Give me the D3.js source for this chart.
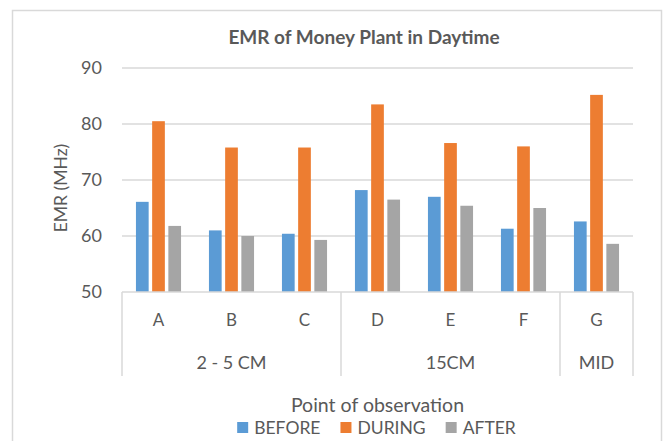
<!DOCTYPE html>
<html>
<head>
<meta charset="utf-8">
<script src="https://cdn.jsdelivr.net/npm/d3@7"></script>
<style>
  html, body { margin: 0; padding: 0; background: #fff; }
  svg { display: block; }
  text { font-family: Lato, "Open Sans", sans-serif; fill: #595959; }
</style>
</head>
<body>
<svg id="chart" width="666" height="441"></svg>
<script>
const categories = ["A", "B", "C", "D", "E", "F", "G"];
const groups = [
  { label: "2 - 5 CM", members: ["A", "B", "C"] },
  { label: "15CM", members: ["D", "E", "F"] },
  { label: "MID", members: ["G"] }
];
const seriesNames = ["BEFORE", "DURING", "AFTER"];
const seriesColors = ["#5B9BD5", "#ED7D31", "#A5A5A5"];
const before = [66.1, 61.0, 60.4, 68.2, 67.0, 61.3, 62.6];
const during = [80.5, 75.8, 75.8, 83.5, 76.6, 76.0, 85.2];
const after = [61.8, 60.0, 59.3, 66.5, 65.4, 65.0, 58.6];
const yTicks = [50, 60, 70, 80, 90];
const title = "EMR of Money Plant in Daytime";
const yTitle = "EMR (MHz)";
const xTitle = "Point of observation";

const seriesValues = [before, during, after];

const svg = d3.select("#chart");
const plot = { left: 122, right: 633, top: 68, bottom: 292 };

// chart border
svg.append("rect")
  .attr("x", 12.5).attr("y", 10.5)
  .attr("width", 649).attr("height", 450)
  .attr("fill", "#fff").attr("stroke", "#d9d9d9").attr("stroke-width", 1.5);

const x = d3.scaleBand().domain(categories).range([plot.left, plot.right]).padding(0);
const inner = d3.scaleBand().domain(seriesNames).range([-22.55, 22.55]).paddingInner(0.216).paddingOuter(0);
const y = d3.scaleLinear().domain([50, 90]).range([plot.bottom, plot.top]);

// gridlines
svg.append("g").selectAll("line").data(yTicks.filter(t => t !== 50)).join("line")
  .attr("x1", plot.left).attr("x2", plot.right)
  .attr("y1", d => y(d)).attr("y2", d => y(d))
  .attr("stroke", "#d9d9d9").attr("stroke-width", 1.3);

// y axis tick labels
const yAxis = d3.axisLeft(y).tickValues(yTicks).tickSize(0).tickPadding(20);
const yg = svg.append("g").attr("transform", `translate(${plot.left},0)`).call(yAxis);
yg.select(".domain").remove();
yg.selectAll("text").style("font-size", "18px").attr("fill", "#595959")
  .style("font-family", "Lato, sans-serif");

// bars
seriesNames.forEach((s, si) => {
  svg.append("g").selectAll("rect").data(categories).join("rect")
    .attr("x", d => x(d) + x.bandwidth() / 2 + inner(s))
    .attr("width", inner.bandwidth())
    .attr("y", (d, i) => y(seriesValues[si][i]))
    .attr("height", (d, i) => y(50) - y(seriesValues[si][i]))
    .attr("fill", seriesColors[si]);
});

// x axis line
svg.append("line")
  .attr("x1", plot.left).attr("x2", plot.right)
  .attr("y1", plot.bottom).attr("y2", plot.bottom)
  .attr("stroke", "#d9d9d9").attr("stroke-width", 1.5);

// group boundary lines
const boundaries = [x(groups[0].members[0])];
groups.forEach(g => {
  const last = g.members[g.members.length - 1];
  boundaries.push(x(last) + x.bandwidth());
});
svg.append("g").selectAll("line").data(boundaries).join("line")
  .attr("x1", d => d).attr("x2", d => d)
  .attr("y1", plot.bottom).attr("y2", 376)
  .attr("stroke", "#d9d9d9").attr("stroke-width", 1.5);

// category labels
svg.append("g").selectAll("text").data(categories).join("text")
  .attr("x", d => x(d) + x.bandwidth() / 2)
  .attr("y", 326)
  .attr("text-anchor", "middle")
  .style("font-size", "17px")
  .text(d => d);

// group labels
svg.append("g").selectAll("text").data(groups).join("text")
  .attr("x", g => (x(g.members[0]) + x(g.members[g.members.length - 1]) + x.bandwidth()) / 2)
  .attr("y", 369)
  .attr("text-anchor", "middle")
  .style("font-size", "18px")
  .text(g => g.label);

// title
svg.append("text")
  .attr("x", 364).attr("y", 44)
  .attr("text-anchor", "middle")
  .style("font-size", "19px").style("font-weight", "bold")
  .text(title);

// y title
svg.append("text")
  .attr("transform", `translate(67,188) rotate(-90)`)
  .attr("text-anchor", "middle")
  .style("font-size", "17.5px")
  .text(yTitle);

// x title
svg.append("text")
  .attr("x", 377.5).attr("y", 412)
  .attr("text-anchor", "middle")
  .style("font-size", "19.5px")
  .text(xTitle);

// legend
const legend = svg.append("g");
const items = legend.selectAll("g").data(seriesNames).join("g");
items.append("rect").attr("width", 11).attr("height", 11).attr("y", -12)
  .attr("fill", (d, i) => seriesColors[i]);
items.append("text").attr("x", 17).attr("y", 0)
  .style("font-size", "17.5px").text(d => d);
const widths = [];
items.each(function () {
  const w = 17 + this.querySelector("text").getComputedTextLength();
  widths.push(w);
});
const spacing = 20;
const total = d3.sum(widths) + spacing * (widths.length - 1);
let start = 376.5 - total / 2;
items.attr("transform", (d, i) => {
  const tx = start;
  start += widths[i] + spacing;
  return `translate(${tx},434)`;
});
</script>
</body>
</html>
